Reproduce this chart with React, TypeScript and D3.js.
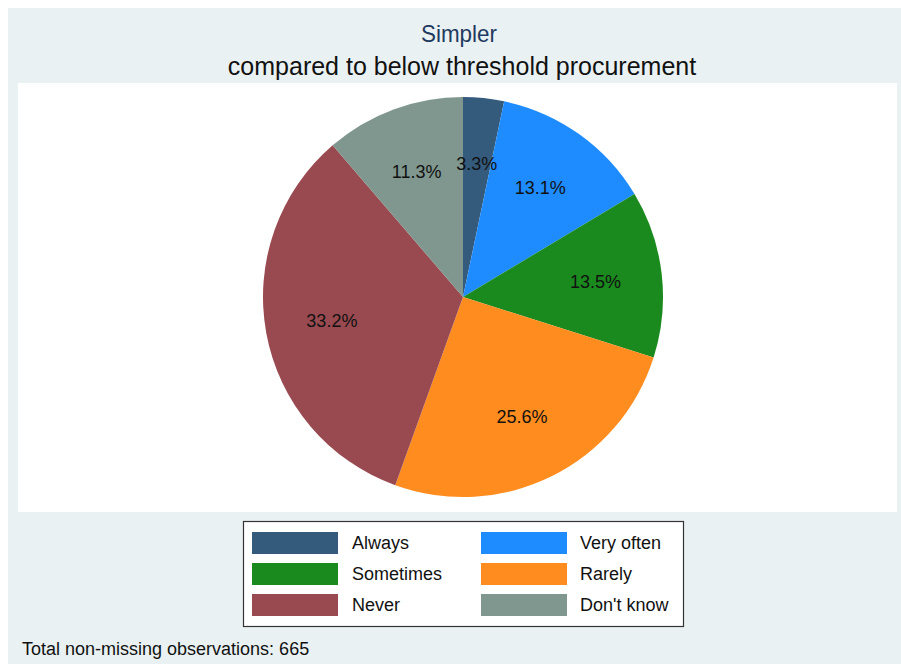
import React, { useEffect, useRef } from 'react';
import * as d3 from 'd3';

const categories = ['Always', 'Very often', 'Sometimes', 'Rarely', 'Never', "Don't know"];
const percents = [3.3, 13.1, 13.5, 25.6, 33.2, 11.3];
const colors = ['#345a7c', '#1e8cff', '#1a8a1e', '#ff8c1e', '#994a50', '#7f978e'];
const title = 'Simpler';
const subtitle = 'compared to below threshold procurement';
const note = 'Total non-missing observations: 665';

const App = () => {
    const svgRef = useRef<SVGSVGElement>(null);

    useEffect(() => {
        const svg = d3.select(svgRef.current);
        svg.selectAll('*').remove();
        const font = 'Arial, "Liberation Sans", Helvetica, sans-serif';

        // graph region background
        svg.append('rect')
            .attr('x', 8).attr('y', 8)
            .attr('width', 893).attr('height', 656)
            .attr('fill', '#eaf1f3');

        // plot region
        svg.append('rect')
            .attr('x', 18).attr('y', 83)
            .attr('width', 879).attr('height', 429)
            .attr('fill', '#ffffff');

        svg.append('text')
            .attr('x', 459).attr('y', 42)
            .attr('text-anchor', 'middle')
            .attr('font-family', font)
            .attr('font-size', 24)
            .attr('textLength', 76)
            .attr('lengthAdjust', 'spacingAndGlyphs')
            .attr('fill', '#1f3a5f')
            .text(title);

        svg.append('text')
            .attr('x', 462).attr('y', 75)
            .attr('text-anchor', 'middle')
            .attr('font-family', font)
            .attr('font-size', 25)
            .attr('fill', '#111')
            .text(subtitle);

        // pie
        const cx = 463, cy = 297, r = 200;
        const pie = d3.pie<number>().sort(null).value(d => d);
        const arcs = pie(percents);
        const arc = d3.arc<d3.PieArcDatum<number>>().innerRadius(0).outerRadius(r);
        const labelArc = d3.arc<d3.PieArcDatum<number>>().innerRadius(r * 2 / 3).outerRadius(r * 2 / 3);

        const g = svg.append('g').attr('transform', `translate(${cx},${cy})`);
        g.selectAll('path')
            .data(arcs)
            .join('path')
            .attr('d', arc)
            .attr('fill', (d, i) => colors[i]);

        g.selectAll('text')
            .data(arcs)
            .join('text')
            .attr('transform', d => `translate(${labelArc.centroid(d)})`)
            .attr('text-anchor', 'middle')
            .attr('dominant-baseline', 'central')
            .attr('font-family', font)
            .attr('font-size', 18)
            .attr('fill', '#111')
            .text(d => `${d.data.toFixed(1)}%`);

        // legend
        const legend = svg.append('g');
        legend.append('rect')
            .attr('x', 243.5).attr('y', 521.5)
            .attr('width', 440).attr('height', 105)
            .attr('fill', '#ffffff')
            .attr('stroke', '#333')
            .attr('stroke-width', 1.2);

        const colX = [252, 481];
        const textX = [352, 580];
        const rowY = [543, 574, 605];
        categories.forEach((c, i) => {
            const col = i % 2;
            const row = Math.floor(i / 2);
            legend.append('rect')
                .attr('x', colX[col]).attr('y', rowY[row] - 11)
                .attr('width', 86).attr('height', 22)
                .attr('fill', colors[i]);
            legend.append('text')
                .attr('x', textX[col]).attr('y', rowY[row])
                .attr('dominant-baseline', 'central')
                .attr('font-family', font)
                .attr('font-size', 18)
                .attr('fill', '#111')
                .text(c);
        });

        svg.append('text')
            .attr('x', 22).attr('y', 655)
            .attr('font-family', font)
            .attr('font-size', 18)
            .attr('fill', '#111')
            .text(note);
    }, []);

    return (
        <svg
            ref={svgRef}
            width={901}
            height={664}
            style={{ position: 'absolute', left: 0, top: 0, display: 'block' }}
        />
    );
};

export default App;
